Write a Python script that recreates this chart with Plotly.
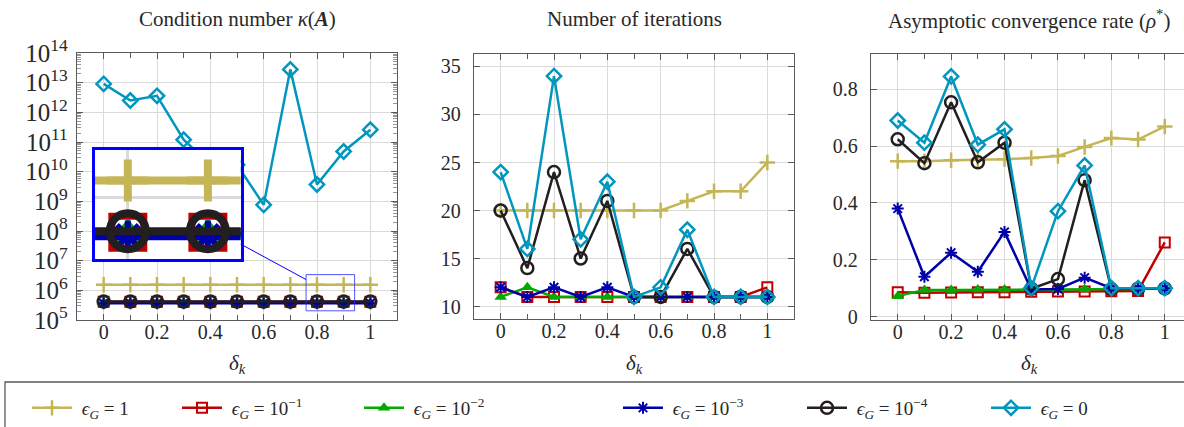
import math
import plotly.graph_objects as go

W, H = 1184, 427

# ---------------- data ----------------
delta = [0.0, 0.1, 0.2, 0.3, 0.4, 0.5, 0.6, 0.7, 0.8, 0.9, 1.0]

names = ["\u2005<i>ϵ</i><sub><i>G</i></sub> = 1",
         "\u2005<i>ϵ</i><sub><i>G</i></sub> = 10<sup>−1</sup>",
         "\u2005<i>ϵ</i><sub><i>G</i></sub> = 10<sup>−2</sup>",
         "\u2005<i>ϵ</i><sub><i>G</i></sub> = 10<sup>−3</sup>",
         "\u2005<i>ϵ</i><sub><i>G</i></sub> = 10<sup>−4</sup>",
         "\u2005<i>ϵ</i><sub><i>G</i></sub> = 0"]

# condition number kappa(A)
cond_e1 = [1.55e6, 1.55e6, 1.55e6, 1.55e6, 1.55e6, 1.55e6, 1.55e6, 1.55e6, 1.55e6, 1.55e6, 1.55e6]
cond_e1m = [4.1e5, 4.1e5, 4.1e5, 4.1e5, 4.1e5, 4.1e5, 4.1e5, 4.1e5, 4.1e5, 4.1e5, 4.1e5]
cond_e2m = [4.0e5, 4.0e5, 4.0e5, 4.0e5, 4.0e5, 4.0e5, 4.0e5, 4.0e5, 4.0e5, 4.0e5, 4.0e5]
cond_e3m = [3.7e5, 3.7e5, 3.7e5, 3.7e5, 3.7e5, 3.7e5, 3.7e5, 3.7e5, 3.7e5, 3.7e5, 3.7e5]
cond_e4m = [4.2e5, 4.2e5, 4.2e5, 4.2e5, 4.2e5, 4.2e5, 4.2e5, 4.2e5, 4.2e5, 4.2e5, 4.2e5]
cond_e0 = [9.1e12, 2.5e12, 3.6e12, 1.2e11, 1.7e10, 1.7e10, 7.6e8, 2.8e13, 3.7e9, 4.8e10, 2.6e11]

# number of iterations
iter_e1 = [20, 20, 20, 20, 20, 20, 20, 21, 22, 22, 25]
iter_e1m = [12, 11, 11, 11, 11, 11, 11, 11, 11, 11, 12]
iter_e2m = [11, 12, 11, 11, 11, 11, 11, 11, 11, 11, 11]
iter_e3m = [12, 11, 12, 11, 12, 11, 11, 11, 11, 11, 11]
iter_e4m = [20, 14, 24, 15, 21, 11, 11, 16, 11, 11, 11]
iter_e0 = [24, 16, 34, 17, 23, 11, 12, 18, 11, 11, 11]

# asymptotic convergence rate rho*
rate_e1 = [0.547, 0.547, 0.550, 0.551, 0.554, 0.558, 0.565, 0.597, 0.628, 0.623, 0.669]
rate_e1m = [0.086, 0.084, 0.085, 0.086, 0.086, 0.087, 0.088, 0.088, 0.089, 0.090, 0.261]
rate_e2m = [0.072, 0.094, 0.094, 0.095, 0.095, 0.095, 0.095, 0.096, 0.096, 0.097, 0.098]
rate_e3m = [0.380, 0.140, 0.225, 0.158, 0.298, 0.095, 0.097, 0.137, 0.100, 0.100, 0.100]
rate_e4m = [0.624, 0.540, 0.754, 0.543, 0.612, 0.098, 0.132, 0.480, 0.097, 0.098, 0.099]
rate_e0 = [0.690, 0.612, 0.845, 0.605, 0.659, 0.100, 0.371, 0.532, 0.100, 0.100, 0.100]

cond = [cond_e1, cond_e1m, cond_e2m, cond_e3m, cond_e4m, cond_e0]
iters = [iter_e1, iter_e1m, iter_e2m, iter_e3m, iter_e4m, iter_e0]
rates = [rate_e1, rate_e1m, rate_e2m, rate_e3m, rate_e4m, rate_e0]

# spy (zoom) window on the condition-number panel
spy_x = [0.759, 0.941]
spy_logy = [5.31, 6.53]

# ---------------- styles ----------------
colors = ["rgb(196,182,86)", "rgb(192,0,0)", "rgb(0,170,0)",
          "rgb(0,0,170)", "rgb(35,31,32)", "rgb(0,150,190)"]
symbols = ["cross-thin-open", "square-open", "triangle-up",
           "asterisk-open", "circle-open", "diamond-open"]
msizes = [11, 10, 11, 10, 12, 11]
mlw = [2.5, 2, 0, 2, 2.5, 2.5]
legends = ["legend", "legend2", "legend2", "legend3", "legend3", "legend3"]

# inset (magnified x3) styles
i_msizes = [30, 32, 30, 26, 36]
i_mlw = [8, 7, 0, 6, 8]

FONT = "Liberation Serif"
TXT = "rgb(40,40,40)"
FRAME = "rgb(90,90,90)"
GRID = "rgb(218,218,218)"

fig = go.Figure()


def px_x(p):
    return p / W


def px_y(p):
    return 1 - p / H


panels = {
    "L": dict(x=[px_x(77), px_x(397)], y=[px_y(320), px_y(53)]),
    "M": dict(x=[px_x(474), px_x(794)], y=[px_y(319), px_y(54)]),
    "R": dict(x=[px_x(871), 1.0], y=[px_y(320), px_y(54)]),
}
inset_dom = dict(x=[px_x(95), px_x(240.7)], y=[px_y(259.3), px_y(150)])

# main traces
for ax, data in (("", cond), ("2", iters), ("3", rates)):
    for i in range(6):
        if i == 2:
            marker = dict(symbol=symbols[i], size=msizes[i], color=colors[i])
        else:
            marker = dict(symbol=symbols[i], size=msizes[i], color=colors[i],
                          line=dict(color=colors[i], width=mlw[i]))
        fig.add_trace(go.Scatter(
            x=delta, y=data[i], mode="lines+markers", name=names[i],
            line=dict(color=colors[i], width=2.5), marker=marker,
            xaxis="x" + ax, yaxis="y" + ax,
            showlegend=(ax == "2"), legend=legends[i],
        ))

# spy rectangle on the main condition-number axes
sx0, sx1 = spy_x
sy0, sy1 = 10 ** spy_logy[0], 10 ** spy_logy[1]
fig.add_trace(go.Scatter(
    x=[sx0, sx1, sx1, sx0, sx0], y=[sy0, sy0, sy1, sy1, sy0], mode="lines",
    line=dict(color="rgba(40,40,255,0.8)", width=1), showlegend=False,
    hoverinfo="skip", xaxis="x", yaxis="y"))

# inset traces (magnified)
for i in range(5):
    if i == 2:
        marker = dict(symbol=symbols[i], size=i_msizes[i], color=colors[i])
    else:
        marker = dict(symbol=symbols[i], size=i_msizes[i], color=colors[i],
                      line=dict(color=colors[i], width=i_mlw[i]))
    fig.add_trace(go.Scatter(
        x=delta, y=cond[i], mode="lines+markers",
        line=dict(color=colors[i], width=8), marker=marker,
        xaxis="x4", yaxis="y4", showlegend=False, hoverinfo="skip"))

tickfont = dict(family=FONT, size=20, color=TXT)

common_x = dict(range=[-0.1, 1.1], tickmode="linear", tick0=0, dtick=0.2,
                ticks="inside", ticklen=6, tickcolor=FRAME, tickwidth=1,
                showline=True, linecolor=FRAME, linewidth=1.3, mirror="allticks",
                showgrid=True, gridcolor=GRID, gridwidth=1, zeroline=False,
                tickfont=tickfont, ticklabelstandoff=-6,
                minor=dict(dtick=0.1, tick0=0, ticks="inside", ticklen=5,
                           tickcolor=FRAME, showgrid=False))

legfont = dict(family=FONT, size=19, color=TXT)

fig.update_layout(
    width=W, height=H, margin=dict(l=0, r=0, t=0, b=0, autoexpand=False),
    paper_bgcolor="white", plot_bgcolor="white",
    font=dict(family=FONT, size=19, color=TXT),
    xaxis=dict(common_x, domain=panels["L"]["x"], anchor="y"),
    yaxis=dict(type="log", range=[5, 14], dtick=1, exponentformat="power",
               domain=panels["L"]["y"], anchor="x",
               ticks="inside", ticklen=6, tickcolor=FRAME,
               showline=True, linecolor=FRAME, linewidth=1.3, mirror="allticks",
               showgrid=True, gridcolor=GRID, zeroline=False,
               tickfont=tickfont, ticklabelstandoff=4,
               minor=dict(ticks="inside", ticklen=4, tickcolor="rgb(150,150,150)",
                          dtick="D1", showgrid=False)),
    xaxis2=dict(common_x, domain=panels["M"]["x"], anchor="y2"),
    yaxis2=dict(range=[8.7, 36.3], tickmode="linear", tick0=10, dtick=5,
                domain=panels["M"]["y"], anchor="x2",
                ticks="inside", ticklen=6, tickcolor=FRAME,
                showline=True, linecolor=FRAME, linewidth=1.3, mirror="allticks",
                showgrid=True, gridcolor=GRID, zeroline=False,
                tickfont=tickfont, ticklabelstandoff=8),
    xaxis3=dict(common_x, range=[-0.1, 1.072], domain=panels["R"]["x"], anchor="y3"),
    yaxis3=dict(range=[-0.012, 0.924], tickmode="linear", tick0=0, dtick=0.2,
                domain=panels["R"]["y"], anchor="x3",
                ticks="inside", ticklen=6, tickcolor=FRAME,
                showline=True, linecolor=FRAME, linewidth=1.3, mirror=False,
                showgrid=True, gridcolor=GRID, zeroline=False,
                tickfont=tickfont, ticklabelstandoff=8),
    xaxis4=dict(range=spy_x, domain=inset_dom["x"], anchor="y4",
                showticklabels=False, ticks="", tickmode="linear", tick0=0, dtick=0.2,
                showgrid=True, gridcolor=GRID, gridwidth=3, zeroline=False,
                showline=True, linecolor="rgb(0,0,255)", linewidth=2.5, mirror=True),
    yaxis4=dict(type="log", range=spy_logy, dtick=1, domain=inset_dom["y"], anchor="x4",
                showticklabels=False, ticks="",
                showgrid=True, gridcolor=GRID, gridwidth=3, zeroline=False,
                showline=True, linecolor="rgb(0,0,255)", linewidth=2.5, mirror=True),
    legend=dict(orientation="h", x=px_x(27), y=px_y(408), xanchor="left", yanchor="middle",
                bgcolor="rgba(0,0,0,0)", font=legfont, itemwidth=40, traceorder="normal"),
    legend2=dict(orientation="h", x=px_x(177), y=px_y(408), xanchor="left", yanchor="middle",
                 bgcolor="rgba(0,0,0,0)", font=legfont,
                 itemwidth=40, entrywidth=127, traceorder="normal"),
    legend3=dict(orientation="h", x=px_x(618), y=px_y(408), xanchor="left", yanchor="middle",
                 bgcolor="rgba(0,0,0,0)", font=legfont,
                 itemwidth=40, entrywidth=129, traceorder="normal"),
)

# connector line between inset and spy window (along the centre line)
Lx0, Lx1 = panels["L"]["x"]
Ly0, Ly1 = panels["L"]["y"]
bx0 = (Lx0 + (sx0 + 0.1) / 1.2 * (Lx1 - Lx0)) * W
bx1 = (Lx0 + (sx1 + 0.1) / 1.2 * (Lx1 - Lx0)) * W
by0 = (Ly0 + (spy_logy[0] - 5) / 9 * (Ly1 - Ly0)) * H
by1 = (Ly0 + (spy_logy[1] - 5) / 9 * (Ly1 - Ly0)) * H
ix0, ix1 = inset_dom["x"][0] * W, inset_dom["x"][1] * W
iy0, iy1 = inset_dom["y"][0] * H, inset_dom["y"][1] * H
c1 = ((ix0 + ix1) / 2, (iy0 + iy1) / 2)
c2 = ((bx0 + bx1) / 2, (by0 + by1) / 2)
slope = (c2[1] - c1[1]) / (c2[0] - c1[0])
p1 = (ix1, c1[1] + slope * (ix1 - c1[0]))
p2 = (bx0, c1[1] + slope * (bx0 - c1[0]))
fig.add_shape(type="line", xref="paper", yref="paper",
              x0=p1[0] / W, y0=p1[1] / H, x1=p2[0] / W, y1=p2[1] / H,
              line=dict(color="rgb(0,0,255)", width=1))

# legend frame
fig.add_shape(type="rect", xref="paper", yref="paper",
              x0=px_x(5), x1=1.05, y0=-0.2, y1=px_y(382),
              line=dict(color=FRAME, width=1.3), fillcolor="rgba(0,0,0,0)")

# titles
titles = [("Condition number <i>κ</i>(<b><i>A</i></b>)", "L"),
          ("Number of iterations", "M"),
          ("Asymptotic convergence rate (<i>ρ</i><sup>*</sup>)", "R")]
for t, p in titles:
    cx = panels[p]["x"][0] + (0.5 + 0.1) / 1.2 * (panels[p]["x"][1] - panels[p]["x"][0])
    if p == "R":
        cx = panels[p]["x"][0] + 158 / W
    fig.add_annotation(text=t, x=cx, y=px_y(19), xref="paper", yref="paper",
                       showarrow=False, xanchor="center", yanchor="middle",
                       font=dict(family=FONT, size=21, color=TXT))
    fig.add_annotation(text="<i>δ</i><sub><i>k</i></sub>", x=cx, y=px_y(364),
                       xref="paper", yref="paper", showarrow=False,
                       xanchor="center", yanchor="middle",
                       font=dict(family=FONT, size=21, color=TXT))

fig.write_html("out.html")
